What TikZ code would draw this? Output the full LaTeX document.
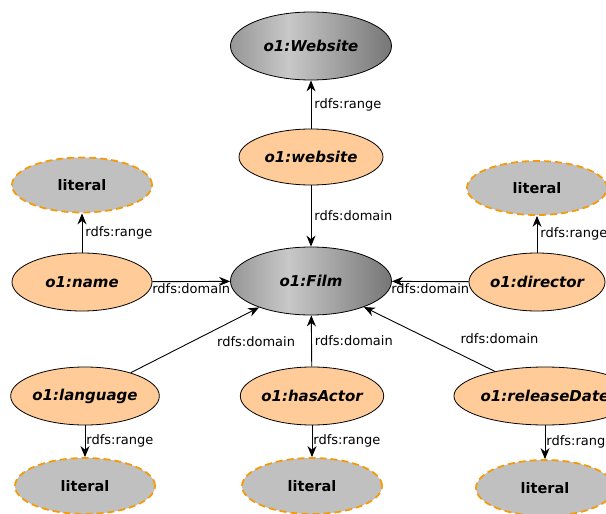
\documentclass[tikz,border=0pt]{standalone}
\usepackage{fontspec}
\setmainfont{DejaVu Sans}
\usetikzlibrary{shapes.geometric,arrows.meta}

\definecolor{propfill}{RGB}{255,204,153}
\definecolor{litfill}{RGB}{192,192,192}
\definecolor{litline}{RGB}{245,155,10}
\definecolor{shadeL}{RGB}{150,150,150}
\definecolor{shadeM}{RGB}{200,200,200}
\definecolor{shadeR}{RGB}{118,118,118}
\pgfdeclarehorizontalshading{classshade}{100bp}{color(0bp)=(shadeL); color(25bp)=(shadeL); color(43bp)=(shadeM); color(75bp)=(shadeR); color(100bp)=(shadeR)}

\tikzset{
  classnode/.style={ellipse, draw=black, line width=0.8pt, shading=classshade,
    minimum width=161pt, minimum height=68pt, inner sep=0pt,
    font=\fontsize{15}{18}\selectfont\bfseries\itshape},
  propnode/.style={ellipse, draw=black, line width=0.8pt, fill=propfill,
    minimum width=141pt, minimum height=57pt, inner sep=0pt,
    font=\fontsize{15}{18}\selectfont\bfseries\itshape},
  litnode/.style={ellipse, draw=litline, line width=1.8pt, dash pattern=on 7pt off 4pt,
    fill=litfill, minimum width=140pt, minimum height=55pt, inner sep=0pt,
    font=\fontsize{14.5}{17}\selectfont\bfseries},
  link/.style={line width=0.9pt, -{Stealth[length=11pt,width=9pt]}},
  lbl/.style={font=\fontsize{13}{15}\selectfont, inner sep=3pt}
}

\begin{document}
\begin{tikzpicture}[x=1pt, y=-1pt]
  \path[use as bounding box, clip] (0,0) rectangle (606,514);

  % Classes
  \node[classnode] (Website) at (311,46) {o1:Website};
  \node[classnode] (Film) at (311,281) {o1:Film};

  % Properties
  \node[propnode, minimum width=144pt, minimum height=56pt] (website) at (311,157) {o1:website};
  \node[propnode, minimum width=140pt, minimum height=58pt] (name) at (82,282) {o1:name};
  \node[propnode, minimum width=136pt, minimum height=58pt] (director) at (537,282) {o1:director};
  \node[propnode, minimum width=140pt, minimum height=58pt] (language) at (85,396) {o1:language};
  \node[propnode, minimum width=140pt, minimum height=58pt] (hasActor) at (312,396) {o1:hasActor};
  \node[propnode, minimum width=142pt, minimum height=58pt] (releaseDate) at (545,396) {o1:releaseDate};

  % Literals
  \node[litnode] (litname) at (82,185) {literal};
  \node[litnode, minimum height=54pt] (litdirector) at (537,188) {literal};
  \node[litnode, minimum height=56pt] (litlanguage) at (85,486) {literal};
  \node[litnode, minimum height=56pt] (litactor) at (312,486) {literal};
  \node[litnode, minimum width=138pt, minimum height=56pt] (litdate) at (545,488) {literal};

  % Ranges
  \draw[link] (website) -- (Website) node[lbl, midway, right] {rdfs:range};
  \draw[link] (name) -- (litname) node[lbl, midway, right] {rdfs:range};
  \draw[link] (director) -- (litdirector) node[lbl, midway, right] {rdfs:range};
  \draw[link] (language) -- (litlanguage) node[lbl, midway, right, inner sep=1pt] {rdfs:range};
  \draw[link] (hasActor) -- (litactor) node[lbl, midway, right, inner sep=1pt] {rdfs:range};
  \draw[link] (releaseDate) -- (litdate) node[lbl, midway, right, inner sep=1pt] {rdfs:range};

  % Domains
  \draw[link] (website) -- (Film) node[lbl, midway, right] {rdfs:domain};
  \draw[link] (name) -- (Film) node[lbl, midway, below, inner sep=2pt] {rdfs:domain};
  \draw[link] (director) -- (Film) node[lbl, midway, below, inner sep=2pt] {rdfs:domain};
  \draw[link] (language) -- (Film) node[lbl, pos=0.6, anchor=north west, xshift=6pt] {rdfs:domain};
  \draw[link] (hasActor) -- (Film) node[lbl, midway, right] {rdfs:domain};
  \draw[link] (releaseDate) -- (Film) node[lbl, pos=0.38, anchor=south west, xshift=12pt] {rdfs:domain};
\end{tikzpicture}
\end{document}
